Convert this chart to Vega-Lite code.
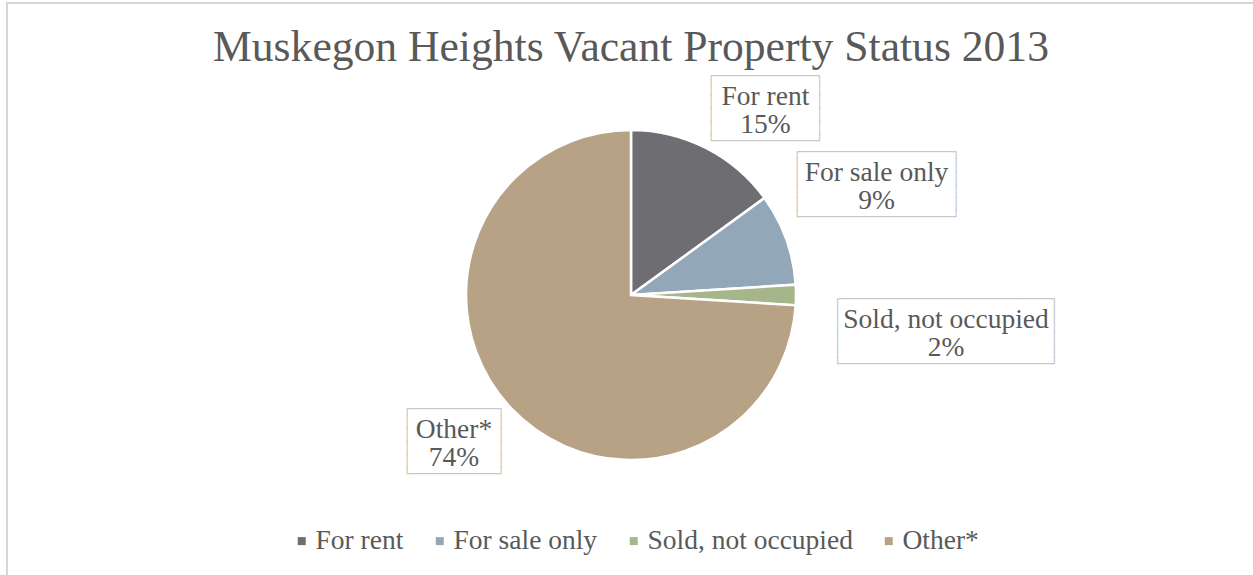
{
  "$schema": "https://vega.github.io/schema/vega-lite/v6.json",
  "width": 1248,
  "height": 584,
  "autosize": {"type": "none"},
  "padding": {"left": 7, "top": 3, "right": 0, "bottom": 0},
  "background": "white",
  "view": {"stroke": "#D6D6D6", "strokeWidth": 2, "fill": "white"},
  "config": {
    "view": {"stroke": "#D6D6D6", "strokeWidth": 2},
    "font": "Liberation Serif"
  },
  "title": {
    "text": "Muskegon Heights Vacant Property Status 2013",
    "anchor": "middle",
    "frame": "group",
    "font": "Liberation Serif",
    "fontSize": 43.6,
    "fontWeight": "normal",
    "color": "#595959",
    "baseline": "alphabetic",
    "offset": -59,
    "dy": 48
  },
  "data": {
    "values": [
      {"category": "For rent", "value": 15, "order": 1},
      {"category": "For sale only", "value": 9, "order": 2},
      {"category": "Sold, not occupied", "value": 2, "order": 3},
      {"category": "Other*", "value": 74, "order": 4}
    ]
  },
  "layer": [
    {
      "mark": {"type": "arc", "radius": 165, "stroke": "white", "strokeWidth": 2.5},
      "encoding": {
        "theta": {"field": "value", "type": "quantitative", "stack": true},
        "order": {"field": "order", "type": "quantitative"},
        "color": {
          "field": "category",
          "type": "nominal",
          "scale": {
            "domain": ["For rent", "For sale only", "Sold, not occupied", "Other*"],
            "range": ["#6E6D72", "#92A8B8", "#A5B68B", "#B8A286"]
          },
          "legend": {
            "orient": "none",
            "legendX": 281,
            "legendY": 524,
            "direction": "horizontal",
            "columns": 4,
            "title": null,
            "symbolType": "square",
            "symbolSize": 64,
            "symbolStrokeWidth": 0,
            "labelFont": "Liberation Serif",
            "labelFontSize": 27.5,
            "labelColor": "#595959",
            "labelOffset": 0,
            "columnPadding": 22,
            "padding": 0,
            "labelLimit": 400
          }
        }
      }
    },
    {
      "mark": {"type": "text", "radius": 230, "dx": 30, "dy": -14.5, "font": "DejaVu Sans Mono", "fontSize": 12, "lineHeight": 13, "color": "#BFBFBF", "align": "center", "baseline": "middle"},
      "encoding": {
        "theta": {"field": "value", "type": "quantitative", "stack": true},
        "order": {"field": "order", "type": "quantitative"},
        "detail": {"field": "category"},
        "text": {"condition": {"test": "datum.category === 'For rent'", "value": ["┌──────────────┐", "│\u00a0\u00a0\u00a0\u00a0\u00a0\u00a0\u00a0\u00a0\u00a0\u00a0\u00a0\u00a0\u00a0\u00a0│", "│\u00a0\u00a0\u00a0\u00a0\u00a0\u00a0\u00a0\u00a0\u00a0\u00a0\u00a0\u00a0\u00a0\u00a0│", "│\u00a0\u00a0\u00a0\u00a0\u00a0\u00a0\u00a0\u00a0\u00a0\u00a0\u00a0\u00a0\u00a0\u00a0│", "│\u00a0\u00a0\u00a0\u00a0\u00a0\u00a0\u00a0\u00a0\u00a0\u00a0\u00a0\u00a0\u00a0\u00a0│", "└──────────────┘"]}, "value": ""}
      }
    },
    {
      "mark": {"type": "text", "radius": 230, "dx": 30, "dy": 6.5, "font": "Liberation Serif", "fontSize": 27.5, "lineHeight": 28, "color": "#595959", "align": "center", "baseline": "middle"},
      "encoding": {
        "theta": {"field": "value", "type": "quantitative", "stack": true},
        "order": {"field": "order", "type": "quantitative"},
        "detail": {"field": "category"},
        "text": {"condition": {"test": "datum.category === 'For rent'", "value": ["For rent", "15%"]}, "value": ""}
      }
    },
    {
      "mark": {"type": "text", "radius": 270, "dx": -8.5, "dy": -51.1, "font": "DejaVu Sans Mono", "fontSize": 12, "lineHeight": 13, "color": "#BFBFBF", "align": "center", "baseline": "middle"},
      "encoding": {
        "theta": {"field": "value", "type": "quantitative", "stack": true},
        "order": {"field": "order", "type": "quantitative"},
        "detail": {"field": "category"},
        "text": {"condition": {"test": "datum.category === 'For sale only'", "value": ["┌─────────────────────┐", "│\u00a0\u00a0\u00a0\u00a0\u00a0\u00a0\u00a0\u00a0\u00a0\u00a0\u00a0\u00a0\u00a0\u00a0\u00a0\u00a0\u00a0\u00a0\u00a0\u00a0\u00a0│", "│\u00a0\u00a0\u00a0\u00a0\u00a0\u00a0\u00a0\u00a0\u00a0\u00a0\u00a0\u00a0\u00a0\u00a0\u00a0\u00a0\u00a0\u00a0\u00a0\u00a0\u00a0│", "│\u00a0\u00a0\u00a0\u00a0\u00a0\u00a0\u00a0\u00a0\u00a0\u00a0\u00a0\u00a0\u00a0\u00a0\u00a0\u00a0\u00a0\u00a0\u00a0\u00a0\u00a0│", "│\u00a0\u00a0\u00a0\u00a0\u00a0\u00a0\u00a0\u00a0\u00a0\u00a0\u00a0\u00a0\u00a0\u00a0\u00a0\u00a0\u00a0\u00a0\u00a0\u00a0\u00a0│", "└─────────────────────┘"]}, "value": ""}
      }
    },
    {
      "mark": {"type": "text", "radius": 270, "dx": -8.5, "dy": -30.1, "font": "Liberation Serif", "fontSize": 27.5, "lineHeight": 28, "color": "#595959", "align": "center", "baseline": "middle"},
      "encoding": {
        "theta": {"field": "value", "type": "quantitative", "stack": true},
        "order": {"field": "order", "type": "quantitative"},
        "detail": {"field": "category"},
        "text": {"condition": {"test": "datum.category === 'For sale only'", "value": ["For sale only", "9%"]}, "value": ""}
      }
    },
    {
      "mark": {"type": "text", "radius": 315, "dx": 0, "dy": 4, "font": "DejaVu Sans Mono", "fontSize": 12, "lineHeight": 13, "color": "#BFBFBF", "align": "center", "baseline": "middle"},
      "encoding": {
        "theta": {"field": "value", "type": "quantitative", "stack": true},
        "order": {"field": "order", "type": "quantitative"},
        "detail": {"field": "category"},
        "text": {"condition": {"test": "datum.category === 'Sold, not occupied'", "value": ["┌─────────────────────────────┐", "│\u00a0\u00a0\u00a0\u00a0\u00a0\u00a0\u00a0\u00a0\u00a0\u00a0\u00a0\u00a0\u00a0\u00a0\u00a0\u00a0\u00a0\u00a0\u00a0\u00a0\u00a0\u00a0\u00a0\u00a0\u00a0\u00a0\u00a0\u00a0\u00a0│", "│\u00a0\u00a0\u00a0\u00a0\u00a0\u00a0\u00a0\u00a0\u00a0\u00a0\u00a0\u00a0\u00a0\u00a0\u00a0\u00a0\u00a0\u00a0\u00a0\u00a0\u00a0\u00a0\u00a0\u00a0\u00a0\u00a0\u00a0\u00a0\u00a0│", "│\u00a0\u00a0\u00a0\u00a0\u00a0\u00a0\u00a0\u00a0\u00a0\u00a0\u00a0\u00a0\u00a0\u00a0\u00a0\u00a0\u00a0\u00a0\u00a0\u00a0\u00a0\u00a0\u00a0\u00a0\u00a0\u00a0\u00a0\u00a0\u00a0│", "│\u00a0\u00a0\u00a0\u00a0\u00a0\u00a0\u00a0\u00a0\u00a0\u00a0\u00a0\u00a0\u00a0\u00a0\u00a0\u00a0\u00a0\u00a0\u00a0\u00a0\u00a0\u00a0\u00a0\u00a0\u00a0\u00a0\u00a0\u00a0\u00a0│", "└─────────────────────────────┘"]}, "value": ""}
      }
    },
    {
      "mark": {"type": "text", "radius": 315, "dx": 0, "dy": 25, "font": "Liberation Serif", "fontSize": 27.5, "lineHeight": 28, "color": "#595959", "align": "center", "baseline": "middle"},
      "encoding": {
        "theta": {"field": "value", "type": "quantitative", "stack": true},
        "order": {"field": "order", "type": "quantitative"},
        "detail": {"field": "category"},
        "text": {"condition": {"test": "datum.category === 'Sold, not occupied'", "value": ["Sold, not occupied", "2%"]}, "value": ""}
      }
    },
    {
      "mark": {"type": "text", "radius": 230, "dx": -9.3, "dy": -43.9, "font": "DejaVu Sans Mono", "fontSize": 12, "lineHeight": 13, "color": "#BFBFBF", "align": "center", "baseline": "middle"},
      "encoding": {
        "theta": {"field": "value", "type": "quantitative", "stack": true},
        "order": {"field": "order", "type": "quantitative"},
        "detail": {"field": "category"},
        "text": {"condition": {"test": "datum.category === 'Other*'", "value": ["┌────────────┐", "│\u00a0\u00a0\u00a0\u00a0\u00a0\u00a0\u00a0\u00a0\u00a0\u00a0\u00a0\u00a0│", "│\u00a0\u00a0\u00a0\u00a0\u00a0\u00a0\u00a0\u00a0\u00a0\u00a0\u00a0\u00a0│", "│\u00a0\u00a0\u00a0\u00a0\u00a0\u00a0\u00a0\u00a0\u00a0\u00a0\u00a0\u00a0│", "│\u00a0\u00a0\u00a0\u00a0\u00a0\u00a0\u00a0\u00a0\u00a0\u00a0\u00a0\u00a0│", "└────────────┘"]}, "value": ""}
      }
    },
    {
      "mark": {"type": "text", "radius": 230, "dx": -9.3, "dy": -22.9, "font": "Liberation Serif", "fontSize": 27.5, "lineHeight": 28, "color": "#595959", "align": "center", "baseline": "middle"},
      "encoding": {
        "theta": {"field": "value", "type": "quantitative", "stack": true},
        "order": {"field": "order", "type": "quantitative"},
        "detail": {"field": "category"},
        "text": {"condition": {"test": "datum.category === 'Other*'", "value": ["Other*", "74%"]}, "value": ""}
      }
    }
  ]
}
